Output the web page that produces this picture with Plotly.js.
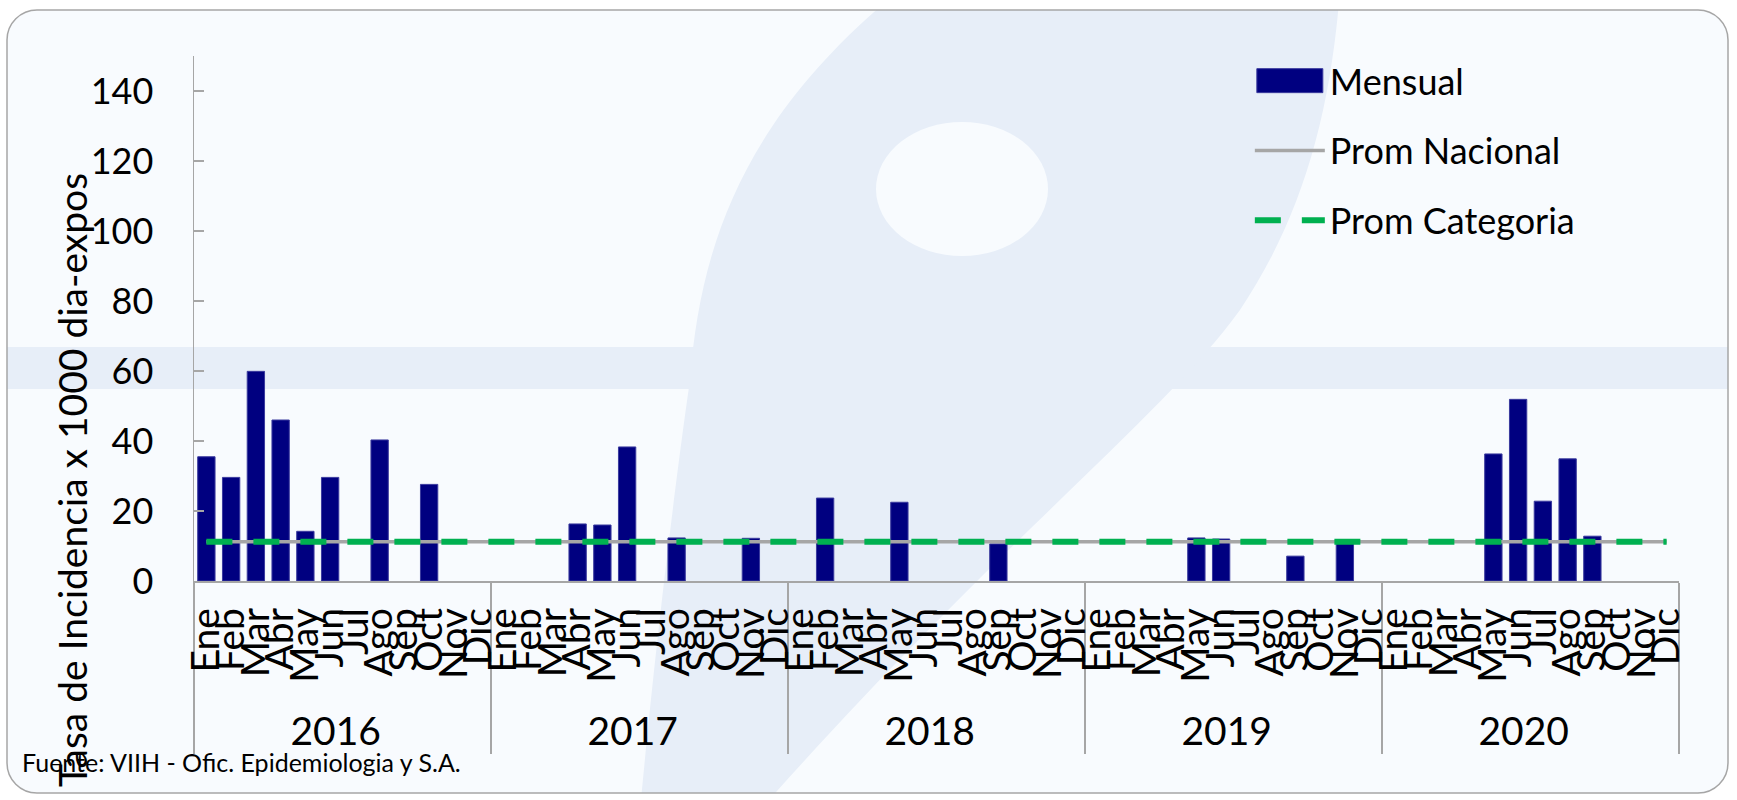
<!DOCTYPE html>
<html><head><meta charset="utf-8">
<script src="https://cdn.plot.ly/plotly-3.0.1.min.js"></script>
<style>
html,body{margin:0;padding:0;background:#ffffff;}
#chart{position:absolute;left:0;top:0;width:1737px;height:800px;}
</style></head><body>
<div id="chart"></div>
<script>
// ---- data ----
const years = ['2016','2017','2018','2019','2020'];
const months = ['Ene','Feb','Mar','Abr','May','Jun','Jul','Ago','Sep','Oct','Nov','Dic'];
const mensual2016 = [35.5, 29.6, 59.9, 46.0, 14.2, 29.6, null, 40.3, null, 27.6, null, null];
const mensual2017 = [null, null, null, 16.3, 16.0, 38.3, null, 12.3, null, null, 12.2, null];
const mensual2018 = [null, 23.7, null, null, 22.5, null, null, null, 10.6, null, null, null];
const mensual2019 = [null, null, null, null, 12.3, 12.0, null, null, 7.1, null, 11.0, null];
const mensual2020 = [null, null, null, null, 36.3, 51.9, 22.8, 34.9, 12.8, null, null, null];
const promNacional = 11.2;
const promCategoria = 11.2;
const seriesNames = ['Mensual', 'Prom Nacional', 'Prom Categoria'];
const yTitle = 'Tasa de Incidencia x 1000 dia-expos';
const sourceText = 'Fuente: VIIH - Ofic. Epidemiologia y S.A.';

// ---- build ----
const xYears = [], xMonths = [];
years.forEach(y => months.forEach(m => { xYears.push(y); xMonths.push(m); }));
const mensual = [].concat(mensual2016, mensual2017, mensual2018, mensual2019, mensual2020);
const nac = xMonths.map(() => promNacional);
const cat = xMonths.map(() => promCategoria);

const FONT = 'Lato, "Open Sans", sans-serif';
const W = 1737, H = 800, ML = 194, MR = 58, MT = 56, MB = 219;
const PW = W - ML - MR, PH = H - MT - MB;

// background frame + faint watermark as an svg layout image
const svg = `<svg xmlns="http://www.w3.org/2000/svg" width="${W}" height="${H}" viewBox="0 0 ${W} ${H}">
<defs><clipPath id="c"><rect x="7" y="10" width="1721" height="783" rx="30"/></clipPath></defs>
<rect x="7" y="10" width="1721" height="783" rx="30" fill="#F8FBFE"/>
<g clip-path="url(#c)" fill="#E7EEF8">
<rect x="0" y="347" width="1737" height="42"/>
<path d="M640 810 C 660 600 680 450 690 380 C 700 250 740 120 900 -10 L 1340 -10 C 1330 120 1300 220 1240 310 C 1160 420 1000 540 760 810 Z"/>
<ellipse cx="962" cy="189" rx="86" ry="67" fill="#F8FBFE"/>
</g>
<rect x="7" y="10" width="1721" height="783" rx="30" fill="none" stroke="#A6A6A6" stroke-width="1.5"/>
</svg>`;
const svgUri = 'data:image/svg+xml;base64,' + btoa(svg);

const traces = [
  {type:'bar', name:seriesNames[0], x:[xYears, xMonths], y:mensual,
   marker:{color:'#000080', line:{color:'#3a3a9e', width:1}}, legendgroup:'a'},
  {type:'scatter', mode:'lines', name:seriesNames[1], x:[xYears, xMonths], y:nac,
   line:{color:'#A6A6A6', width:3.5}, legendgroup:'b'},
  {type:'scatter', mode:'lines', name:seriesNames[2], x:[xYears, xMonths], y:cat,
   line:{color:'#00B050', width:6, dash:'26px,21px'}, legendgroup:'c'}
];

const layout = {
  width: W, height: H,
  margin:{l:ML, r:MR, t:MT, b:MB, pad:0},
  paper_bgcolor:'rgba(0,0,0,0)', plot_bgcolor:'rgba(0,0,0,0)',
  font:{family:FONT, color:'#000', size:35},
  bargap:0.3,
  showlegend:true,
  legend:{x:0.711, y:1.01, xanchor:'left', yanchor:'top', bgcolor:'rgba(0,0,0,0)',
          font:{family:FONT, size:36, color:'#000'}, itemwidth:70, tracegroupgap:20},
  xaxis:{type:'multicategory', tickmode:'linear', tick0:0, dtick:1, tickangle:-90,
         tickfont:{family:FONT, size:39, color:'#000'},
         showline:true, linecolor:'#A6A6A6', linewidth:1.5,
         ticks:'', ticklabelstandoff:10, showgrid:false,
         showdividers:true, dividercolor:'#A6A6A6', dividerwidth:1.5, range:[-0.5, 59.5]},
  yaxis:{range:[0,150], tick0:0, dtick:20, ticks:'inside', ticklen:10, tickcolor:'#A6A6A6',
         tickwidth:1.5, showline:true, linecolor:'#A6A6A6', linewidth:1.5, showgrid:false,
         zeroline:false, tickfont:{family:FONT, size:36, color:'#000'}, ticklabelstandoff:32},
  images:[{source:svgUri, xref:'paper', yref:'paper', x:-ML/PW, y:1 + MT/PH,
           sizex:W/PW, sizey:H/PH, xanchor:'left', yanchor:'top', sizing:'stretch', layer:'below'}],
  annotations:[
    {text:yTitle, xref:'paper', yref:'paper', x:(72-ML)/PW, y:(H-MB-480)/PH, textangle:-90,
     showarrow:false, xanchor:'center', yanchor:'middle', font:{family:FONT, size:39, color:'#000'}},
    {text:sourceText, xref:'paper', yref:'paper', x:(20-ML)/PW, y:(H-MB-762)/PH,
     showarrow:false, xanchor:'left', yanchor:'middle', font:{family:FONT, size:25, color:'#000'}}
  ]
};

function widenBarSwatch(gd) {
  // widen the bar legend swatch to a rectangle like the original
  const first = gd.querySelector('.legend .traces');
  if (!first) return;
  first.querySelectorAll('.legendpoints path').forEach(p => p.setAttribute('d', 'M33,12H-33V-12H33Z'));
}

const gdiv = document.getElementById('chart');
Plotly.newPlot(gdiv, traces, layout, {displayModeBar:false, staticPlot:true}).then(gd => {
  widenBarSwatch(gd);
  gd.on('plotly_afterplot', () => widenBarSwatch(gd));
  setTimeout(() => widenBarSwatch(gd), 50);
  setTimeout(() => widenBarSwatch(gd), 300);
});
</script>
</body></html>
